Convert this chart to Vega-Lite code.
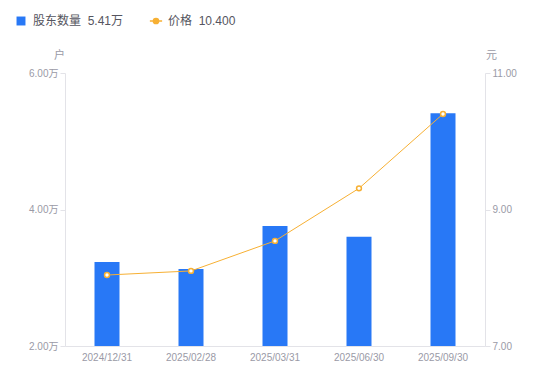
{
  "$schema": "https://vega.github.io/schema/vega-lite/v6.json",
  "width": 420,
  "height": 273,
  "autosize": {"type": "none"},
  "padding": {"left": 65, "top": 73, "right": 65, "bottom": 35},
  "background": "white",
  "config": {
    "view": {"stroke": null},
    "font": "Liberation Sans, Noto Sans CJK SC, sans-serif",
    "axis": {
      "labelColor": "#9a9aa6",
      "labelFontSize": 10,
      "titleColor": "#9a9aa6",
      "titleFontSize": 11,
      "titleFontWeight": "normal",
      "domainColor": "#e3e3e8",
      "tickColor": "#e3e3e8",
      "grid": false
    }
  },
  "data": {
    "values": [
      {"date": "2024/12/31", "holders": 3.23, "price": 8.04, "s1": "股东数量"},
      {"date": "2025/02/28", "holders": 3.13, "price": 8.10, "s1": "股东数量"},
      {"date": "2025/03/31", "holders": 3.76, "price": 8.54, "s1": "股东数量"},
      {"date": "2025/06/30", "holders": 3.60, "price": 9.31, "s1": "股东数量"},
      {"date": "2025/09/30", "holders": 5.41, "price": 10.40, "s1": "股东数量"}
    ]
  },
  "encoding": {
    "x": {
      "field": "date",
      "type": "ordinal",
      "sort": null,
      "scale": {"paddingInner": 0, "paddingOuter": 0},
      "axis": {"title": null, "labelAngle": 0, "ticks": false, "labelPadding": 6}
    }
  },
  "layer": [
    {
      "mark": {"type": "bar", "size": 25, "clip": true},
      "encoding": {
        "y": {
          "field": "holders",
          "type": "quantitative",
          "scale": {"domain": [2, 6], "nice": false, "zero": false},
          "axis": {
            "values": [2, 4, 6],
            "labelExpr": "format(datum.value, '.2f') + '万'",
            "title": "户",
            "titleAngle": 0,
            "titleX": -6,
            "titleY": -13,
            "titleAlign": "center",
            "titleBaseline": "bottom",
            "tickSize": 5,
            "labelPadding": 2
          }
        },
        "color": {
          "field": "s1",
          "type": "nominal",
          "scale": {"domain": ["股东数量", "价格"], "range": ["#2878f6", "#f7b033"]},
          "legend": {
            "title": null,
            "orient": "none",
            "legendX": -50,
            "legendY": -58,
            "direction": "horizontal",
            "labelFontSize": 12,
            "labelColor": "#555560",
            "symbolSize": 80,
            "columnPadding": 22,
            "labelOffset": 6,
            "labelExpr": "datum.label == '股东数量' ? '股东数量\u00a0\u00a05.41万' : '价格\u00a0\u00a010.400'",
            "encode": {
              "symbols": {
                "update": {
                  "shape": {"signal": "datum.label == '价格' ? 'M-1,0L-0.42,0M0.42,0L1,0M-0.42,0A0.42,0.42 0 1,0 0.42,0A0.42,0.42 0 1,0 -0.42,0Z' : 'square'"},
                  "size": {"signal": "datum.label == '价格' ? 150 : 80"},
                  "fill": {"signal": "datum.label == '价格' ? '#ffffff' : '#2878f6'"},
                  "fillOpacity": {"value": 1},
                  "stroke": {"signal": "datum.label == '价格' ? '#f7b033' : '#2878f6'"},
                  "strokeWidth": {"signal": "datum.label == '价格' ? 1.6 : 0"}
                }
              }
            }
          }
        }
      }
    },
    {
      "mark": {"type": "line", "color": "#f7b033", "strokeWidth": 1,
               "point": {"filled": true, "fill": "white", "stroke": "#f7b033", "strokeWidth": 1.5, "size": 24}},
      "encoding": {
        "y": {
          "field": "price",
          "type": "quantitative",
          "scale": {"domain": [7, 11], "nice": false, "zero": false},
          "axis": {
            "orient": "right",
            "values": [7, 9, 11],
            "format": ".2f",
            "title": "元",
            "titleAngle": 0,
            "titleX": 6,
            "titleY": -13,
            "titleAlign": "center",
            "titleBaseline": "bottom",
            "tickSize": 5,
            "labelPadding": 2
          }
        }
      }
    }
  ],
  "resolve": {"scale": {"y": "independent"}}
}
